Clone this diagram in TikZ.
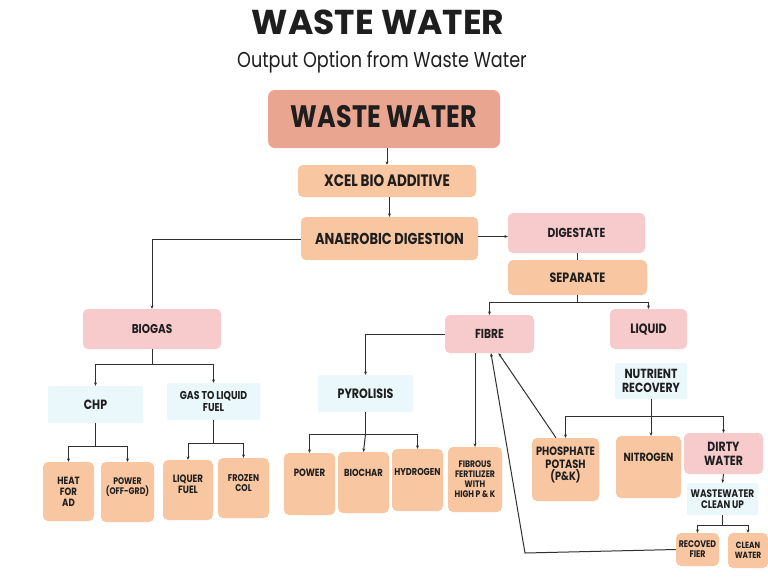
\documentclass[tikz,border=0pt]{standalone}
\usepackage{fontspec}
\setmainfont{Poppins}
\newfontfamily\nf{Poppins}[FakeStretch=0.82]
\usetikzlibrary{arrows.meta}
\definecolor{salmon}{HTML}{EAA591}
\definecolor{peach}{HTML}{F8C6A1}
\definecolor{pinkc}{HTML}{F7CACC}
\definecolor{lblue}{HTML}{EAF7FB}
\definecolor{txt}{HTML}{1E1E1E}
\definecolor{linec}{HTML}{303030}
\newcommand{\fs}[1]{\fontsize{#1pt}{\fpeval{#1*1.05}pt}\selectfont}
\begin{document}
\begin{tikzpicture}[x=1pt,y=-1pt,
  box/.style={rounded corners=5pt, inner sep=1pt, align=center, text=txt, font=\nf\bfseries\fs{10}},
  pk/.style={box, fill=peach},
  pnk/.style={box, fill=pinkc},
  lb/.style={box, fill=lblue, rounded corners=2pt},
  sz/.style 2 args={minimum width=#1pt, minimum height=#2pt},
  fz/.style={font=\nf\bfseries\fs{#1}},
  arr/.style={draw=linec, line width=1pt, -{Stealth[length=3.4pt,width=3pt]}},
  ln/.style={draw=linec, line width=1pt}]
\useasboundingbox[fill=white] (0,0) rectangle (768,576);

% titles
\node[text=txt, font=\bfseries\fs{34.5}] (title) at (378,22) {WASTE WATER};
\node[text=txt, font=\nf\fs{21.5}] (subtitle) at (382,62) {Output Option from Waste Water};

% top chain
\node[box, fill=salmon, sz={232}{58}, rounded corners=7pt, fz=31, text depth=5pt] (main) at (384,119) {WASTE WATER};
\node[pk, sz={178}{32}, fz=16.5] (xcel) at (387,181) {XCEL BIO ADDITIVE};
\node[pk, sz={177}{43}, fz=15.8] (ad) at (389.5,238.5) {ANAEROBIC DIGESTION};
\node[pnk, sz={137}{40}, fz=13] (dig) at (576.5,233) {DIGESTATE};
\node[pk, sz={139}{35}, fz=13.5] (sep) at (577.5,277.5) {SEPARATE};

% biogas branch
\node[pnk, sz={138}{40}, fz=12.8] (biogas) at (152,329) {BIOGAS};
\node[lb, sz={95}{37}, fz=13.4] (chp) at (95.5,404.5) {CHP};
\node[lb, sz={93}{37}, fz=11.4] (gtl) at (213.5,401.5) {GAS TO LIQUID\\FUEL};
\node[pk, sz={51}{59}, fz=10.5] (heat) at (68.5,491.5) {HEAT\\FOR\\AD};
\node[pk, sz={53}{60}, fz=9.5, text depth=12pt] (powerog) at (127.5,492) {POWER\\(OFF-GRD)};
\node[pk, sz={50}{60}, fz=10.6, text depth=12pt] (liquer) at (188,490) {LIQUER\\FUEL};
\node[pk, sz={51}{60}, fz=9.8, text depth=10pt] (frozen) at (243.5,488) {FROZEN\\COL};

% fibre branch
\node[pnk, sz={89}{38}, fz=13] (fibre) at (489.5,334) {FIBRE};
\node[lb, sz={95}{37}, fz=13.5] (pyro) at (365.5,393.5) {PYROLISIS};
\node[pk, sz={51}{62}, fz=10.5, text depth=22pt] (power) at (309.5,484) {POWER};
\node[pk, sz={51}{61}, fz=10.2, text depth=19pt] (biochar) at (363.5,482.5) {BIOCHAR};
\node[pk, sz={51}{62}, fz=10, text depth=16pt] (hydrogen) at (417.5,480) {HYDROGEN};
\node[pk, sz={54}{65}, fz=9.4] (fibrous) at (475,479.5) {FIBROUS\\FERTILIZER\\WITH\\HIGH P \& K};

% liquid branch
\node[pnk, sz={77}{40}, fz=13.5] (liquid) at (648.5,329) {LIQUID};
\node[lb, sz={72}{36}, fz=13.2] (nutrient) at (651,381) {NUTRIENT\\RECOVERY};
\node[pk, sz={67}{63}, fz=12, text depth=11pt] (phos) at (565.5,469.5) {PHOSPHATE\\POTASH\\(P\&K)};
\node[pk, sz={65}{62}, fz=11.8, text depth=20pt] (nitro) at (648.5,467) {NITROGEN};
\node[pnk, sz={79}{41}, fz=13.3] (dirty) at (723.5,453.5) {DIRTY\\WATER};
\node[lb, sz={71}{32}, fz=10.9] (wcu) at (722.5,499) {WASTEWATER\\CLEAN UP};
\node[pk, sz={43}{33}, fz=9.6] (recov) at (697.5,549.5) {RECOVED\\FIER};
\node[pk, sz={40}{35}, fz=9] (clean) at (748,550.5) {CLEAN\\WATER};

% junctions
\coordinate (jsep) at (577.5,302);
\coordinate (jbio) at (152,364);
\coordinate (jchp) at (95.5,446);
\coordinate (jgtl) at (213.5,443);
\coordinate (jpyr) at (365.5,434);
\coordinate (jnut) at (651,416);
\coordinate (jwcu) at (722.5,525);
\coordinate (cbend) at (525,553);

% connectors
\draw[arr] (main.south -| xcel.north) -- (xcel.north);
\draw[arr] (xcel.south -| ad.north) -- (ad.north);
\draw[arr] ([yshift=2pt]ad.east) -- ([yshift=2pt]ad.east -| dig.west);
\draw[arr] ([yshift=-1pt]ad.west) -| (biogas.north);
\draw[ln] (dig.south -| sep.north) -- (sep.north);

\draw[ln] (sep.south) -- (jsep);
\draw[arr] (jsep) -| (fibre.north);
\draw[arr] (jsep) -| (liquid.north);

\draw[ln] (biogas.south) -- (jbio);
\draw[arr] (jbio) -| (chp.north);
\draw[arr] (jbio) -| (gtl.north);
\draw[ln] (chp.south) -- (jchp);
\draw[arr] (jchp) -| (heat.north);
\draw[arr] (jchp) -| (powerog.north);
\draw[ln] (gtl.south) -- (jgtl);
\draw[arr] (jgtl) -| (liquer.north);
\draw[arr] (jgtl) -| (frozen.north);

\draw[arr] (fibre.west) -| (pyro.north);
\draw[ln] (pyro.south) -- (jpyr);
\draw[arr] (jpyr) -| (power.north);
\draw[arr] (jpyr) -- (biochar.north);
\draw[arr] (jpyr) -| (hydrogen.north);
\draw[arr] (fibrous.north |- fibre.south) -- (fibrous.north);

\draw[ln] (nutrient.south) -- (jnut);
\draw[arr] (jnut) -| (phos.north);
\draw[arr] (jnut) -- (jnut |- nitro.north);
\draw[arr] (jnut) -| (dirty.north);
\draw[arr] (dirty.south) -- (wcu.north);
\draw[ln] (wcu.south) -- (jwcu);
\draw[arr] (jwcu) -| (recov.north);
\draw[arr] (jwcu) -| (clean.north);

\draw[arr] (recov.west) -- (cbend) -- ([xshift=1.5pt]fibre.south);
\draw[arr] ([xshift=-9.5pt]phos.north) -- ([xshift=9pt]fibre.south);
\end{tikzpicture}
\end{document}
